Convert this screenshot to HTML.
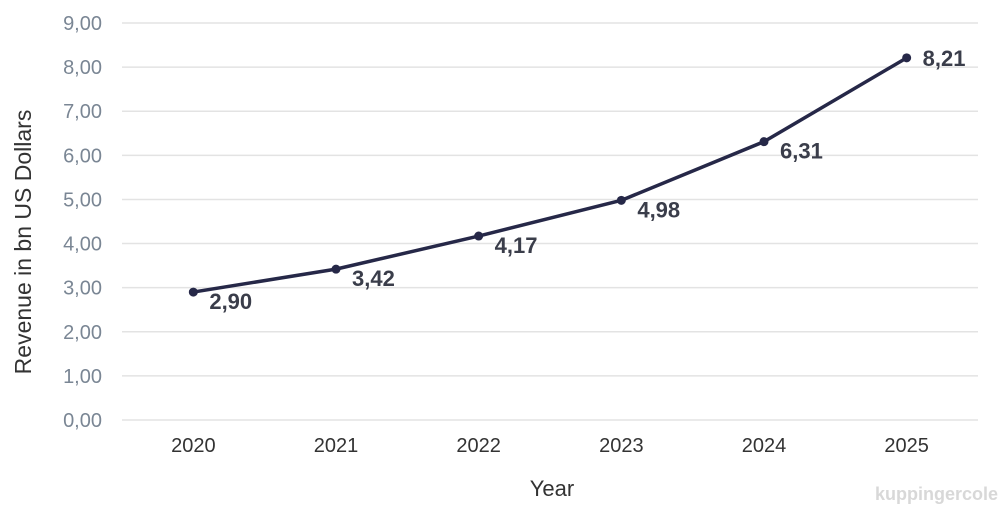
<!DOCTYPE html>
<html><head><meta charset="utf-8"><style>
body{margin:0;background:#fff;width:1000px;height:516px;overflow:hidden}
svg text{font-family:"Liberation Sans",sans-serif}
</style></head><body>
<svg id="c" width="1000" height="516"></svg>
<script>
const years=["2020","2021","2022","2023","2024","2025"];
const revenue=[2.90,3.42,4.17,4.98,6.31,8.21];
const yTicks=[0,1,2,3,4,5,6,7,8,9];
const svg=document.getElementById('c');
const NS='http://www.w3.org/2000/svg';
const x0=122,x1=978,y0=420,y1=23;
const xs=i=>x0+(x1-x0)/years.length*(i+0.5);
const ys=v=>y0-(y0-y1)*v/9;
const fmt=v=>v.toFixed(2).replace('.',',');
function mk(t,a,p){const e=document.createElementNS(NS,t);for(const k in a)e.setAttribute(k,a[k]);(p||svg).appendChild(e);return e;}
yTicks.forEach(v=>{
 const l=mk('line',{x1:x0,x2:x1,y1:ys(v),y2:ys(v),stroke:'#e3e3e3','stroke-width':1.5});
 
 
 const t=mk('text',{x:102,y:ys(v)+7,'text-anchor':'end','font-size':20,fill:'#7a8694'});
 t.textContent=fmt(v);
 
 
});
years.forEach((y,i)=>{
 const t=mk('text',{x:xs(i),y:452,'text-anchor':'middle','font-size':20,fill:'#333'});
 t.textContent=y;
 
 
});
const p=mk('polyline',{points:revenue.map((v,i)=>xs(i)+','+ys(v)).join(' '),fill:'none',stroke:'#262848','stroke-width':3.5,'stroke-linejoin':'round'});


revenue.forEach((v,i)=>{
 const c=mk('circle',{cx:xs(i),cy:ys(v),r:4.5,fill:'#262848'});
 
 
 const t=mk('text',{x:xs(i)+16,y:ys(v)+(i==5?8:17),'font-size':22,'font-weight':'bold',fill:'#3a3d4a'});
 t.textContent=fmt(v);
 
 
});
const yt=mk('text',{x:0,y:0,transform:'translate(31,242) rotate(-90)','text-anchor':'middle','font-size':23,fill:'#333'});
yt.textContent='Revenue in bn US Dollars';


const xt=mk('text',{x:552,y:496,'text-anchor':'middle','font-size':22,fill:'#333'});
xt.textContent='Year';


const lg=mk('text',{x:998,y:500,'text-anchor':'end','font-size':18,'font-weight':'bold',fill:'#d8d8d8'});
lg.textContent='kuppingercole';


</script>
</body></html>
